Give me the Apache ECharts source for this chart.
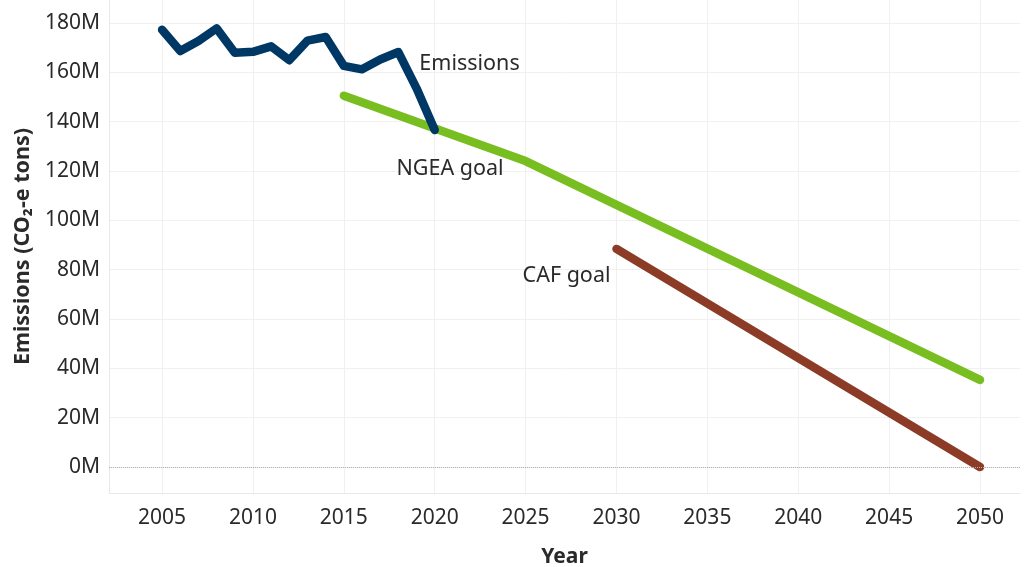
<!DOCTYPE html>
<html>
<head>
<meta charset="utf-8">
<script src="https://cdn.jsdelivr.net/npm/echarts@6/dist/echarts.min.js"></script>
<style>
  html, body { margin: 0; padding: 0; background: #fff; }
  #main { width: 1025px; height: 567px; }
</style>
</head>
<body>
<div id="main"></div>
<script>
// values in millions of CO2-e tons
const emissionYears = [2005, 2006, 2007, 2008, 2009, 2010, 2011, 2012, 2013, 2014, 2015, 2016, 2017, 2018, 2019, 2020];
const emissionValues = [177.2, 168.6, 172.7, 177.8, 167.9, 168.3, 170.5, 164.9, 172.8, 174.3, 162.6, 161.2, 165.2, 168.2, 153.5, 136.6];
const ngeaYears = [2015, 2025, 2050];
const ngeaValues = [150.5, 124.0, 35.3];
const cafYears = [2030, 2050];
const cafValues = [88.4, 0];
const xTicks = [2005, 2010, 2015, 2020, 2025, 2030, 2035, 2040, 2045, 2050];
const yTicks = [0, 20, 40, 60, 80, 100, 120, 140, 160, 180];

const font = 'Noto Sans';
const txt = '#2a2a2a';

const pairs = (xs, ys) => xs.map((x, i) => [x, ys[i]]);

// text label hung on one point of a series
function tag(coord, label) {
  return {
    symbol: 'circle',
    symbolSize: 0,
    label: { show: false },
    data: [{
      coord: coord,
      label: Object.assign({ show: true, color: txt, fontFamily: font, fontSize: 21.5, formatter: label.text }, label)
    }]
  };
}

const chart = echarts.init(document.getElementById('main'));
const option = {
  animation: false,
  textStyle: { fontFamily: font },
  grid: { left: 109, right: 5, top: 0, bottom: 74, outerBoundsMode: 'none', containLabel: false },
  xAxis: {
    type: 'value',
    min: 2002.08,
    max: 2052.2,
    name: 'Year',
    nameLocation: 'middle',
    nameGap: 54,
    nameTextStyle: { color: txt, fontWeight: 'bold', fontSize: 21, fontFamily: font },
    axisLine: { show: true, onZero: false, lineStyle: { color: '#e8e8e8' } },
    axisTick: { show: false, customValues: xTicks },
    axisLabel: { customValues: xTicks, color: txt, fontSize: 21, margin: 15, formatter: v => String(v) },
    splitLine: { show: true, lineStyle: { color: '#f0f0f0' } }
  },
  yAxis: {
    type: 'value',
    min: -10.54,
    max: 189.3,
    name: 'Emissions (CO₂-e tons)',
    nameLocation: 'middle',
    nameGap: 74,
    nameTextStyle: { color: txt, fontWeight: 'bold', fontSize: 21.5, fontFamily: font },
    axisLine: { show: true, lineStyle: { color: '#e8e8e8' } },
    axisTick: { show: false, customValues: yTicks },
    axisLabel: { customValues: yTicks, color: txt, fontSize: 21, margin: 9, formatter: v => v + 'M' },
    splitLine: { show: true, lineStyle: { color: '#f0f0f0' } }
  },
  series: [
    {
      name: 'NGEA goal',
      type: 'line',
      symbol: 'none',
      lineStyle: { color: '#78be20', width: 8.5, cap: 'round', join: 'round' },
      data: pairs(ngeaYears, ngeaValues),
      markLine: {
        silent: true,
        symbol: 'none',
        label: { show: false },
        lineStyle: { color: '#b0b0b0', type: 'dotted', width: 1 },
        data: [{ yAxis: 0 }]
      },
      markPoint: tag([ngeaYears[1], ngeaValues[1]], { text: 'NGEA goal', position: 'left', offset: [0, 8], distance: 22 }),
      z: 2
    },
    {
      name: 'CAF goal',
      type: 'line',
      symbol: 'none',
      lineStyle: { color: '#8c3b26', width: 8.5, cap: 'round', join: 'round' },
      data: pairs(cafYears, cafValues),
      markPoint: tag([cafYears[0], cafValues[0]], { text: 'CAF goal', position: 'left', offset: [0, 27], distance: 6 }),
      z: 3
    },
    {
      name: 'Emissions',
      type: 'line',
      symbol: 'none',
      lineStyle: { color: '#003865', width: 8.5, cap: 'round', join: 'round' },
      data: pairs(emissionYears, emissionValues),
      markPoint: tag([emissionYears[13], emissionValues[13]], { text: 'Emissions', position: 'right', offset: [0, 12], distance: 21 }),
      z: 4
    }
  ]
};
chart.setOption(option);
</script>
</body>
</html>
